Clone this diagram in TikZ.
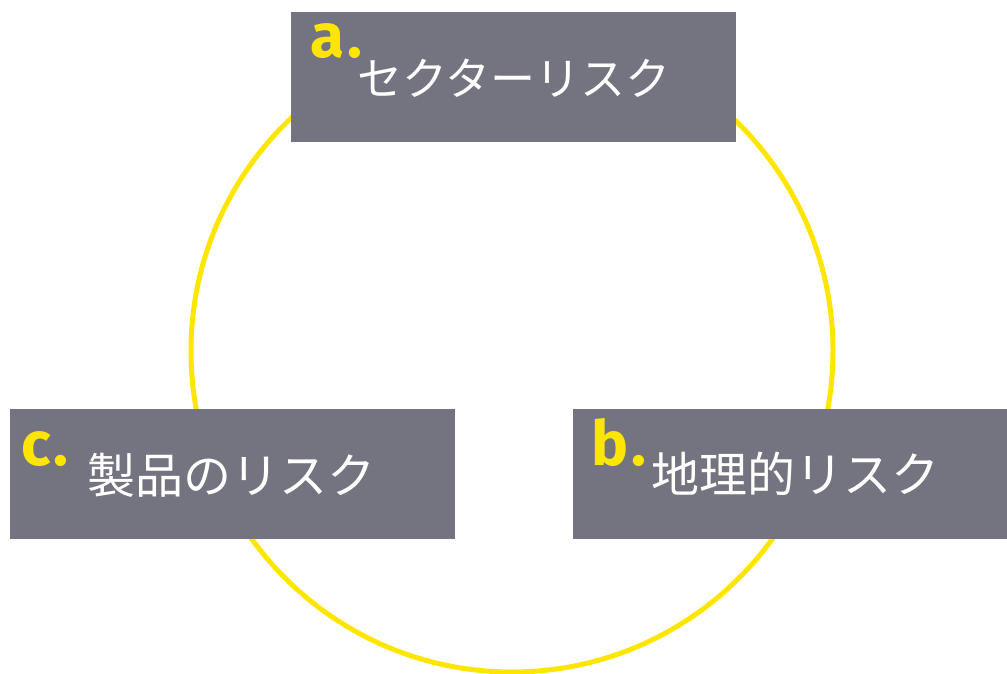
\documentclass[tikz,border=0pt]{standalone}
\usepackage{fontspec}
\newfontfamily\jp{Noto Sans CJK JP}
\newfontfamily\lab{Fira Sans}
\definecolor{eygray}{HTML}{747480}
\definecolor{eyyellow}{HTML}{FFE600}
\tikzset{
  box/.style={fill=eygray, draw=none, anchor=north west, inner sep=0pt},
  jtext/.style={text=white, font=\jp\fontsize{45}{54}\selectfont, inner sep=0pt},
  jbig/.style={jtext, font=\jp\fontsize{48}{56}\selectfont},
  letter/.style={text=eyyellow, font=\lab\bfseries\fontsize{62}{70}\selectfont, inner sep=0pt, anchor=base west},
  ring/.style={draw=eyyellow, line width=5pt}
}
\begin{document}
\begin{tikzpicture}[x=1pt,y=-1pt]
\useasboundingbox (0,0) rectangle (1007,674);
\draw[ring] (512,351) circle[radius=321pt];
\node[box, minimum width=445pt, minimum height=129.5pt] (A) at (291,12) {};
\node[box, minimum width=445pt, minimum height=129.5pt] (C) at (10,409) {};
\node[box, minimum width=440pt, minimum height=129.5pt] (B) at (573,409) {};
\node[jtext] (At) at (514,78.5) {セクターリスク};
\node[jbig] (Ct) at (231,475.5) {製品のリスク};
\node[jbig] (Bt) at (795,474) {地理的リスク};
\node[letter] (Al) at (310,58) {a\kern3pt.};
\node[letter] (Cl) at (21,465) {c\kern3pt.};
\node[letter] (Bl) at (591,465) {b\kern3pt.};
\end{tikzpicture}
\end{document}
